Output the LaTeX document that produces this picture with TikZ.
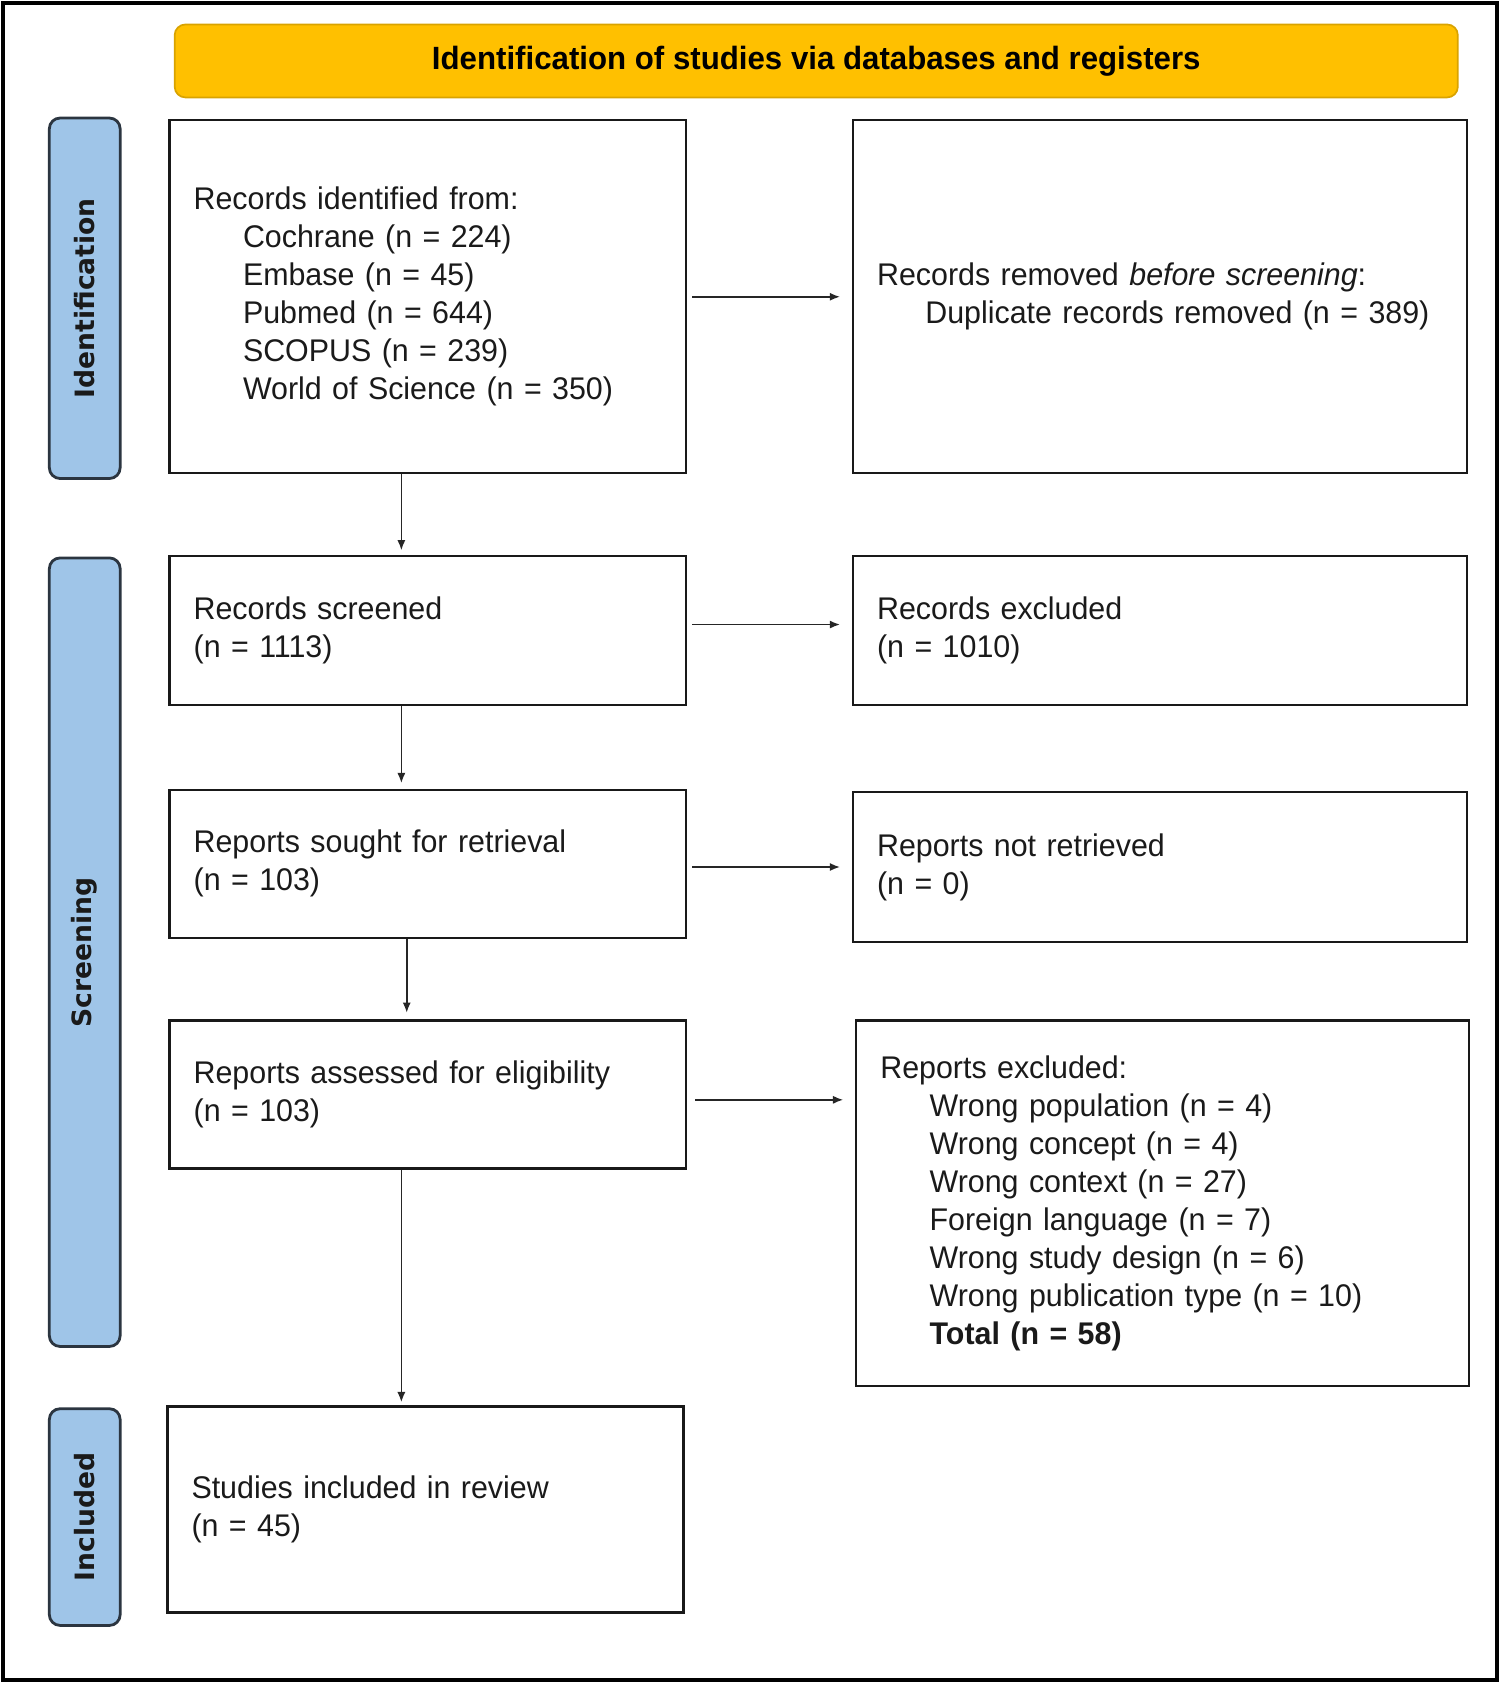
\documentclass[tikz,border=0pt]{standalone}
\usepackage{fontspec}
\setmainfont{Liberation Sans}[FakeStretch=0.97]
\newfontfamily\lblfont{DejaVu Sans}
\usetikzlibrary{arrows.meta,calc}
\definecolor{hdrfill}{HTML}{FFC000}
\definecolor{hdrline}{HTML}{D9A300}
\definecolor{lblfill}{HTML}{9FC5E8}
\definecolor{lblline}{HTML}{2B3540}
\definecolor{txt}{HTML}{1A1A1A}
\begin{document}
\begin{tikzpicture}[x=0.5pt,y=-0.5pt,
  box/.style={draw=black!90, line width=1.1pt, align=left, anchor=north west,
    inner xsep=11.2pt, inner ysep=0pt, text=txt,
    font=\fontsize{14.6}{17.7}\selectfont},
  hdr/.style={draw=hdrline, fill=hdrfill, line width=0.8pt, rounded corners=5pt,
    anchor=north west, minimum width=598pt, minimum height=34pt, inner sep=0pt,
    font=\fontsize{15}{17.7}\selectfont\bfseries},
  lbl/.style={draw=lblline, fill=lblfill, line width=1.3pt, rounded corners=5pt,
    rotate=90, minimum height=33pt, inner sep=0pt, text=txt,
    font=\lblfont\fontsize{12.4}{14}\selectfont\bfseries},
  arr/.style={draw=black!85, line width=0.8pt, -{Latex[length=4.8pt,width=3.8pt]}}
]
\useasboundingbox (0,0) rectangle (1400,1569.6);
\draw[line width=1.7pt] (3,3) rectangle (1395,1566);

\node[hdr] (hdr) at (162,22) {\raisebox{-2pt}{Identification of studies via databases and registers}};

\node[lbl, minimum width=168pt] (lid) at (79,278) {Identification};
\node[lbl, minimum width=367.5pt] (lsc) at (79,887.5) {Screening};
\node[lbl, minimum width=101pt] (lin) at (79,1414) {Included};

\node[box, text width=218.1pt, minimum height=164.5pt] (b1) at (157,111)
 {Records identified from:\\
  \hspace*{23pt}Cochrane (n = 224)\\
  \hspace*{23pt}Embase (n = 45)\\
  \hspace*{23pt}Pubmed (n = 644)\\
  \hspace*{23pt}SCOPUS (n = 239)\\
  \hspace*{23pt}World of Science (n = 350)};
\node[box, text width=263.6pt, minimum height=164.5pt] (b2) at (794,111)
 {Records removed \textit{before screening}:\\
  \hspace*{22.5pt}Duplicate records removed (n = 389)};
\node[box, text width=218.1pt, minimum height=69.5pt] (b3) at (157,517)
 {Records screened\\(n = 1113)};
\node[box, text width=263.6pt, minimum height=69.5pt] (b4) at (794,517)
 {Records excluded\\(n = 1010)};
\node[box, text width=218.1pt, minimum height=69pt] (b5) at (157,735)
 {Reports sought for retrieval\\(n = 103)};
\node[box, text width=263.6pt, minimum height=70pt] (b6) at (794,737)
 {Reports not retrieved\\(n = 0)};
\node[box, text width=218.1pt, minimum height=69pt] (b7) at (157,950)
 {Reports assessed for eligibility\\(n = 103)};
\node[box, text width=263.1pt, minimum height=170.5pt] (b8) at (797,950)
 {Reports excluded:\\
  \hspace*{23pt}Wrong population (n = 4)\\
  \hspace*{23pt}Wrong concept (n = 4)\\
  \hspace*{23pt}Wrong context (n = 27)\\
  \hspace*{23pt}Foreign language (n = 7)\\
  \hspace*{23pt}Wrong study design (n = 6)\\
  \hspace*{23pt}Wrong publication type (n = 10)\\
  \hspace*{23pt}\textbf{Total (n = 58)}};
\node[box, text width=218.1pt, minimum height=96pt] (b9) at (155,1310)
 {Studies included in review\\(n = 45)};

% horizontal connectors
\draw[arr, shorten <=2.5pt, shorten >=5.5pt] (b1.east) -- (b2.west);
\draw[arr, shorten <=2.5pt, shorten >=5.5pt] ([yshift=2.75pt]b3.east) -- ([yshift=2.75pt]b4.west);
\draw[arr, shorten <=2.5pt, shorten >=5.5pt] (b5.east |- b6.west) -- (b6.west);
\draw[arr, shorten <=4pt, shorten >=5.5pt] ([yshift=-2.5pt]b7.east) -- ([yshift=-2.5pt]b7.east -| b8.west);
% vertical connectors
\draw[arr, shorten >=2pt] ([xshift=-12.25pt]b1.south) -- ([xshift=-12.25pt]b1.south |- b3.north);
\draw[arr, shorten >=2.5pt] ([xshift=-12.25pt]b3.south) -- ([xshift=-12.25pt]b3.south |- b5.north);
\draw[arr, shorten >=3pt] ([xshift=-9.75pt]b5.south) -- ([xshift=-9.75pt]b5.south |- b7.north);
\draw[arr, shorten >=1.5pt] ([xshift=-12.25pt]b7.south) -- ([xshift=-12.25pt]b7.south |- b9.north);
\end{tikzpicture}
\end{document}
